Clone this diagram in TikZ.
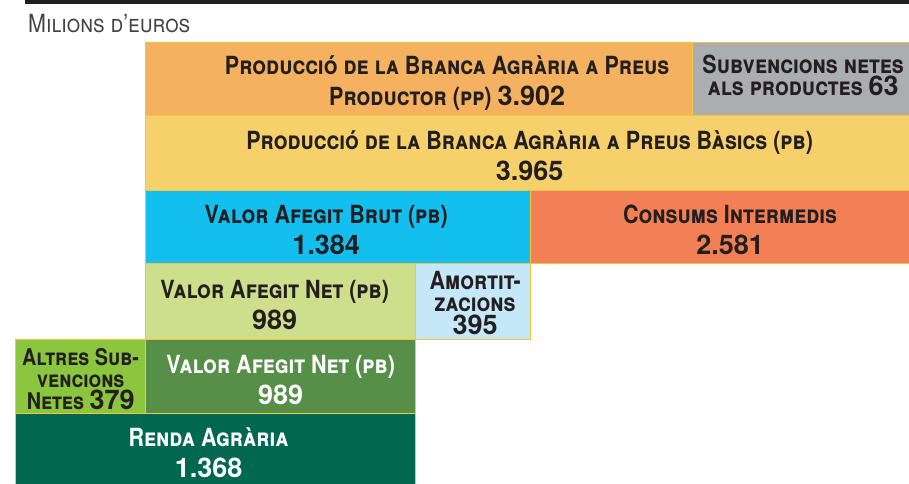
\documentclass[tikz,border=0pt]{standalone}
\usepackage{fontspec}
\setmainfont{TeX Gyre Heros}[FakeStretch=0.86]
\newfontfamily\numfont{TeX Gyre Heros}
\newcommand{\val}[1]{{\numfont\upshape\fontsize{27}{\the\baselineskip}\selectfont #1}}
\usetikzlibrary{positioning}

\definecolor{cellline}{HTML}{F2C53D}
\definecolor{inkdark}{HTML}{231F20}
\definecolor{pporange}{HTML}{F4B160}
\definecolor{subgrey}{HTML}{ABADB0}
\definecolor{pbyellow}{HTML}{F6D06A}
\definecolor{vabblue}{HTML}{13BFEF}
\definecolor{cicoral}{HTML}{F37F54}
\definecolor{vanlight}{HTML}{CFDE8A}
\definecolor{amortblue}{HTML}{C5E8F8}
\definecolor{altlime}{HTML}{8CC63F}
\definecolor{vangreen}{HTML}{568F48}
\definecolor{rendagreen}{HTML}{006751}

\tikzset{
  cell/.style={draw=cellline, line width=1.3pt, anchor=north west, inner sep=0pt},
  label/.style={inner sep=0pt, align=center, text=inkdark,
    font=\fontsize{25}{31}\selectfont\bfseries\scshape},
  whitelabel/.style={label, text=white},
  tightlabel/.style={label, font=\fontsize{25}{22.5}\selectfont\bfseries\scshape},
  narrowlabel/.style={label, font=\fontsize{23}{22}\selectfont\bfseries\scshape},
}

\begin{document}
\begin{tikzpicture}[x=1pt,y=-1pt]

    \useasboundingbox (0,0) rectangle (909,483);
    \fill[inkdark] (25,0) rectangle (909,3.5);
    \node[anchor=base west, inner sep=0pt, text=inkdark!85, font=\fontsize{25}{28}\selectfont\scshape] (unit) at (28,32) {Milions d’euros};

    \node[cell, fill=pporange, minimum width=547pt, minimum height=73pt] (ppb) at (145,42) {};
    \node[cell, fill=subgrey, minimum width=217pt, minimum height=73pt] (subv) at (692,42) {};
    \node[cell, fill=pbyellow, minimum width=764pt, minimum height=75pt] (pbb) at (145,115) {};
    \node[cell, fill=vabblue, minimum width=385pt, minimum height=73pt] (vab) at (145,190) {};
    \node[cell, fill=cicoral, minimum width=379pt, minimum height=73pt] (cons) at (530,190) {};
    \node[cell, fill=vanlight, minimum width=270pt, minimum height=76pt] (van) at (145,263) {};
    \node[cell, fill=amortblue, minimum width=115pt, minimum height=76pt] (amort) at (415,263) {};
    \node[cell, fill=altlime, minimum width=130pt, minimum height=74pt] (altres) at (15,339) {};
    \node[cell, fill=vangreen, minimum width=270pt, minimum height=74pt] (vann) at (145,339) {};
    \node[cell, fill=rendagreen, minimum width=400pt, minimum height=72pt] (renda) at (15,413) {};

    \node[label] (ppb-t) at ([xshift=28pt,yshift=-4pt]ppb.center) {Producció de la Branca Agrària a Preus\\Productor (pp) \val{3.902}};
    \node[tightlabel] (subv-t) at ([xshift=2pt,yshift=4pt]subv.center) {Subvencions netes\\als productes \val{63}};
    \node[label] (pbb-t) at ([xshift=2pt,yshift=-3pt]pbb.center) {Producció de la Branca Agrària a Preus Bàsics (pb)\\\val{3.965}};
    \node[label] (vab-t) at ([xshift=-12pt,yshift=-3pt]vab.center) {Valor Afegit Brut (pb)\\\val{1.384}};
    \node[label] (cons-t) at ([xshift=10pt,yshift=-3pt]cons.center) {Consums Intermedis\\\val{2.581}};
    \node[label] (van-t) at ([xshift=-6pt,yshift=-3pt]van.center) {Valor Afegit Net (pb)\\\val{989}};
    \node[tightlabel] (amort-t) at ([xshift=2pt,yshift=-1pt]amort.center) {Amortit-\\zacions\\\val{395}};
    \node[narrowlabel] (altres-t) at ([yshift=-2pt]altres.center) {Altres Sub-\\vencions\\Netes \val{379}};
    \node[whitelabel] (vann-t) at ([yshift=-3pt]vann.center) {Valor Afegit Net (pb)\\\val{989}};
    \node[whitelabel] (renda-t) at ([xshift=-7pt,yshift=-3pt]renda.center) {Renda Agrària\\\val{1.368}};

\end{tikzpicture}
\end{document}
